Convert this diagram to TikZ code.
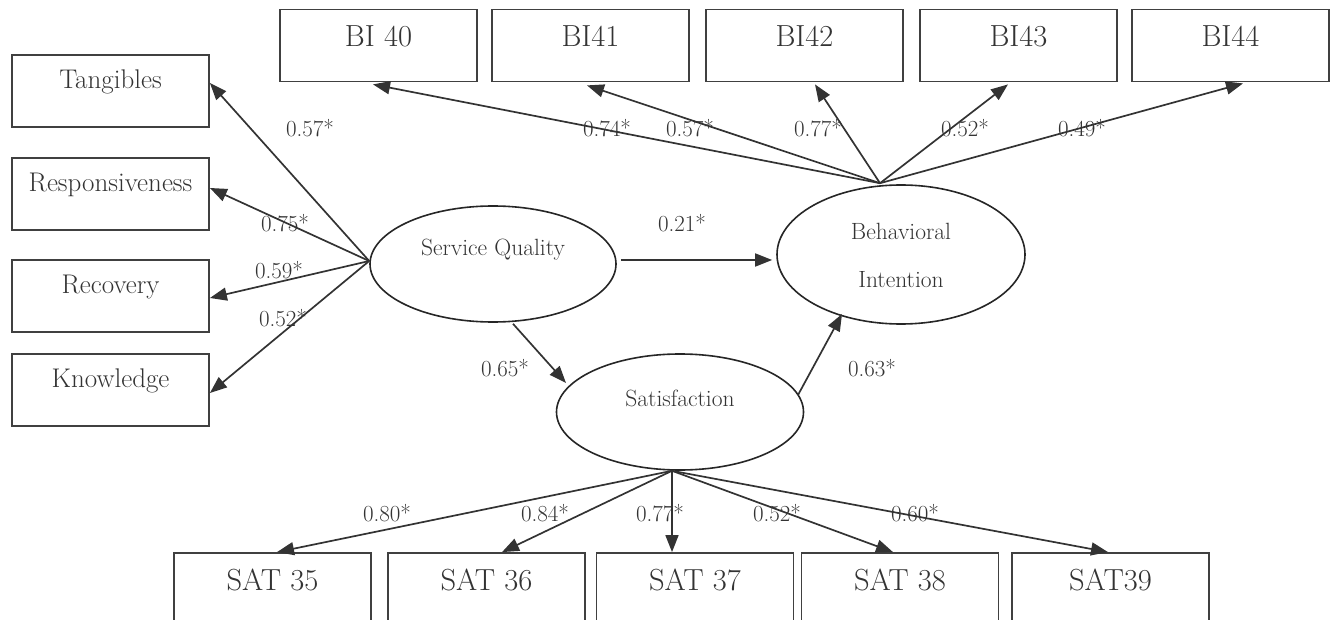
\documentclass[tikz,border=0pt]{standalone}
\usepackage{fontspec}
\usetikzlibrary{arrows.meta,calc,shapes.geometric}
\begin{document}
\begin{tikzpicture}[x=1pt,y=-1pt,
  ln/.style={draw=black!80, line width=1.7pt},
  arr/.style={ln, -{Triangle[length=17pt,width=13pt]}},
  box/.style={draw=black!75, line width=1.8pt, rectangle, minimum width=197pt, minimum height=72pt, inner sep=0pt},
  lat/.style={draw=black!85, line width=1.6pt, ellipse, inner sep=0pt},
  bigtxt/.style={font=\fontsize{30.5}{32}\selectfont, text=black!80, anchor=center, yshift=9pt, inner sep=0pt},
  midtxt/.style={font=\fontsize{27}{29}\selectfont, text=black!80, anchor=center, yshift=9pt, inner sep=0pt},
  eltxt/.style={font=\fontsize{23.5}{48}\selectfont, text=black!80, anchor=center, align=center, inner sep=0pt},
  coef/.style={font=\fontsize{23}{25}\selectfont, text=black!80, inner sep=0pt}]
\useasboundingbox (0,0) rectangle (1338,620);
\clip (0,0) rectangle (1338,620);

% left indicator boxes
\node[box, label={[midtxt]center:Tangibles}] (Tang) at (110.5,91) {};
\node[box, label={[midtxt]center:Responsiveness}] (Resp) at (110.5,194) {};
\node[box, label={[midtxt]center:Recovery}] (Rec) at (110.5,296) {};
\node[box, label={[midtxt]center:Knowledge}] (Know) at (110.5,390) {};

% top indicator boxes
\node[box, label={[bigtxt]center:BI 40}] (B40) at (378.5,45.5) {};
\node[box, label={[bigtxt]center:BI41}] (B41) at (590.5,45.5) {};
\node[box, label={[bigtxt]center:BI42}] (B42) at (804.5,45.5) {};
\node[box, label={[bigtxt]center:BI43}] (B43) at (1018.5,45.5) {};
\node[box, label={[bigtxt]center:BI44}] (B44) at (1230.5,45.5) {};

% bottom indicator boxes
\node[box, label={[bigtxt]center:SAT 35}] (S35) at (272.5,589) {};
\node[box, label={[bigtxt]center:SAT 36}] (S36) at (486.5,589) {};
\node[box, label={[bigtxt]center:SAT 37}] (S37) at (695,589) {};
\node[box, label={[bigtxt]center:SAT 38}] (S38) at (900,589) {};
\node[box, label={[bigtxt]center:SAT39}] (S39) at (1110.5,589) {};

% latent variables
\node[lat, minimum width=246pt, minimum height=116pt,
  label={[eltxt,yshift=14pt]center:Service Quality}] (SQ) at (493,264) {};
\node[lat, minimum width=248pt, minimum height=139pt,
  label={[eltxt,yshift=-1pt]center:Behavioral\\Intention}] (BI) at (901,254.5) {};
\node[lat, minimum width=247pt, minimum height=116pt,
  label={[eltxt,yshift=14pt]center:Satisfaction}] (Sat) at (680,412) {};

% origins
\coordinate (SQo) at ($(SQ.west)+(0,-3)$);
\coordinate (BIo) at ($(BI.north)+(-21,-1)$);
\coordinate (Sato) at ($(Sat.south)+(-8,0)$);

% service quality loadings
\draw[arr] (SQo) -- ($(Tang.east)+(0,-8)$);
\draw[arr] (SQo) -- ($(Resp.east)+(0,-6)$);
\draw[arr] (SQo) -- ($(Rec.east)+(0,2)$);
\draw[arr] (SQo) -- ($(Know.east)+(0,3)$);

% behavioral intention loadings
\draw[arr] (BIo) -- ($(B40.south)+(-5.5,2)$);
\draw[arr] (BIo) -- ($(B41.south)+(-3.5,3)$);
\draw[arr] (BIo) -- ($(B42.south)+(10.5,2)$);
\draw[arr] (BIo) -- ($(B43.south)+(-10.5,2)$);
\draw[arr] (BIo) -- ($(B44.south)+(12.5,1)$);

% satisfaction loadings
\draw[arr] (Sato) -- ($(S35.north)+(4.5,0)$);
\draw[arr] (Sato) -- ($(S36.north)+(15.5,0)$);
\draw[arr] (Sato) -- ($(S37.north)+(-23,0)$);
\draw[arr] (Sato) -- ($(S38.north)+(-7,0)$);
\draw[arr] (Sato) -- ($(S39.north)+(-2.5,0)$);

% structural paths
\draw[arr] ($(SQ.east)+(4,-4)$) -- ($(BI.west)+(-4,5.5)$);
\draw[arr] ($(SQ.south)+(20,1)$) -- ($(Sat.center)+(-114,-29)$);
\draw[arr] ($(Sat.center)+(118,-17)$) -- ($(BI.center)+(-59,59.5)$);

% coefficients
\node[coef] (c1) at (310,128) {0.57*};
\node[coef] (c2) at (285,223) {0.75*};
\node[coef] (c3) at (279,270) {0.59*};
\node[coef] (c4) at (283,318) {0.52*};
\node[coef] (c5) at (607,128) {0.74*};
\node[coef] (c6) at (690,128) {0.57*};
\node[coef] (c7) at (818,128) {0.77*};
\node[coef] (c8) at (965,128) {0.52*};
\node[coef] (c9) at (1082,128) {0.49*};
\node[coef] (c10) at (682,223) {0.21*};
\node[coef] (c11) at (505,368) {0.65*};
\node[coef] (c12) at (872,368) {0.63*};
\node[coef] (c13) at (387,513) {0.80*};
\node[coef] (c14) at (545,513) {0.84*};
\node[coef] (c15) at (660,513) {0.77*};
\node[coef] (c16) at (777,513) {0.52*};
\node[coef] (c17) at (915,513) {0.60*};
\end{tikzpicture}
\end{document}
